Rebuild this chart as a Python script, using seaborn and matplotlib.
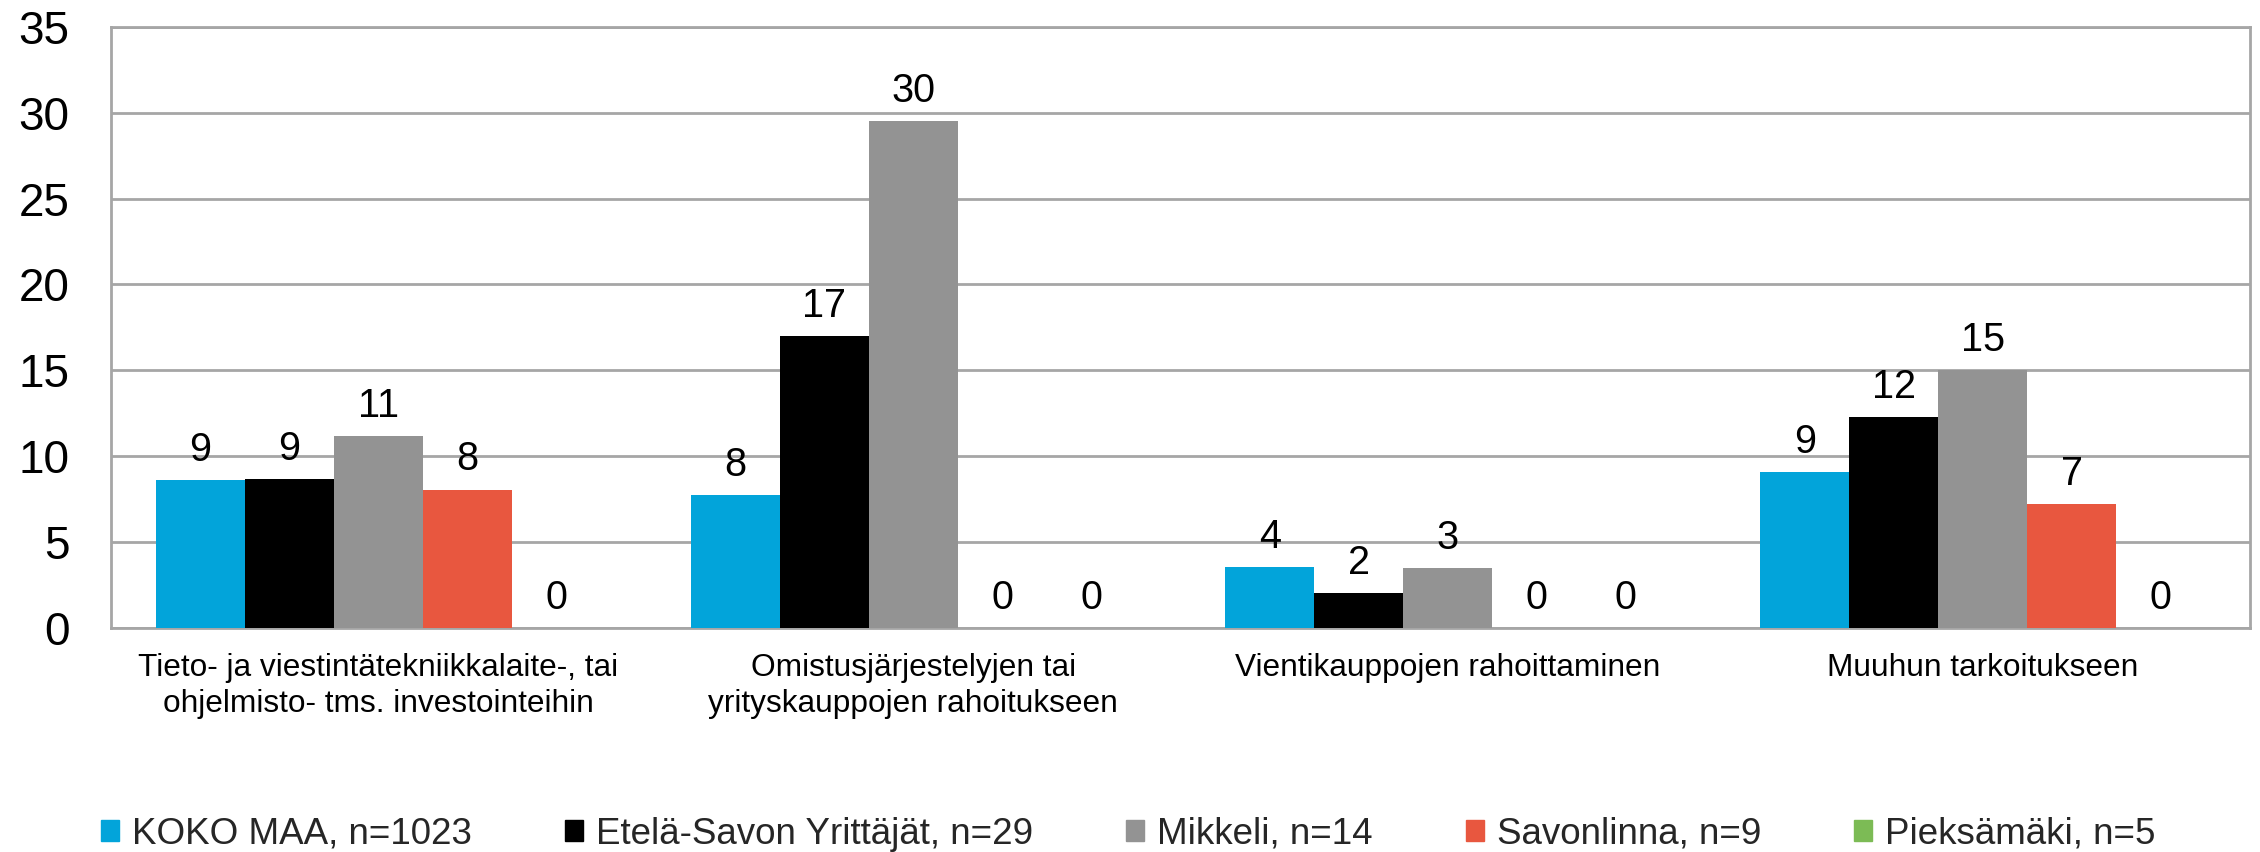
import matplotlib
matplotlib.use("Agg")
import matplotlib.pyplot as plt
import matplotlib.patches as mpatches
import pandas as pd
import seaborn as sns

# Data
categories = [
    "Tieto- ja viestintätekniikkalaite-, tai\nohjelmisto- tms. investointeihin",
    "Omistusjärjestelyjen tai\nyrityskauppojen rahoitukseen",
    "Vientikauppojen rahoittaminen",
    "Muuhun tarkoitukseen",
]
series = ["KOKO MAA, n=1023", "Etelä-Savon Yrittäjät, n=29", "Mikkeli, n=14",
          "Savonlinna, n=9", "Pieksämäki, n=5"]
koko_maa = [8.6, 7.75, 3.55, 9.05]
etela_savo = [8.65, 17.0, 2.0, 12.25]
mikkeli = [11.15, 29.5, 3.45, 15.0]
savonlinna = [8.05, 0, 0, 7.2]
pieksamaki = [0, 0, 0, 0]
colors = ["#02A4DA", "#000000", "#939393", "#E8573F", "#7CBB55"]

values = [koko_maa, etela_savo, mikkeli, savonlinna, pieksamaki]
rows = []
for name, vals in zip(series, values):
    for cat, v in zip(categories, vals):
        rows.append({"category": cat, "series": name, "value": v})
df = pd.DataFrame(rows)

sns.set_theme(style="white")
plt.rcParams["font.family"] = ["Liberation Sans", "DejaVu Sans"]

fig = plt.figure(figsize=(22.6, 8.52), dpi=100)
ax = fig.add_axes([0.0491, 0.2633, 0.9465, 0.705])

sns.barplot(data=df, x="category", y="value", hue="series", order=categories,
            hue_order=series, palette=colors, width=0.832, gap=0,
            saturation=1, legend=False, ax=ax, zorder=3, linewidth=0)

# value labels (rounded like the source)
for cont, vals in zip(ax.containers, values):
    ax.bar_label(cont, labels=[f"{round(v):d}" for v in vals], padding=8,
                 fontsize=28.5, color="black")

ax.set_ylim(0, 35)
ax.set_yticks(range(0, 36, 5))
ax.set_xlim(-0.5, 3.5)
ax.grid(axis="y", color="#A6A6A6", linewidth=2, zorder=0)
ax.set_axisbelow(True)
for side in ["left", "right", "bottom", "top"]:
    ax.spines[side].set_visible(True)
    ax.spines[side].set_color("#A6A6A6")
    ax.spines[side].set_linewidth(2)
ax.set_xlabel("")
ax.set_ylabel("")
ax.tick_params(axis="y", labelsize=33, length=0, pad=30, colors="black")
ax.tick_params(axis="x", labelsize=22.8, length=0, pad=18, colors="black")
for lbl in ax.get_xticklabels():
    lbl.set_linespacing(1.28)

handles = [mpatches.Patch(color=c) for c in colors]
fig.legend(handles, series, loc="center left", bbox_to_anchor=(101 / 2260, 0.021),
           ncol=5, frameon=False, fontsize=26.5, handlelength=0.49,
           handleheight=0.5, handletextpad=0.35, columnspacing=2.53,
           borderaxespad=0, borderpad=0)

fig.savefig("out.png", dpi=100, facecolor="white")
